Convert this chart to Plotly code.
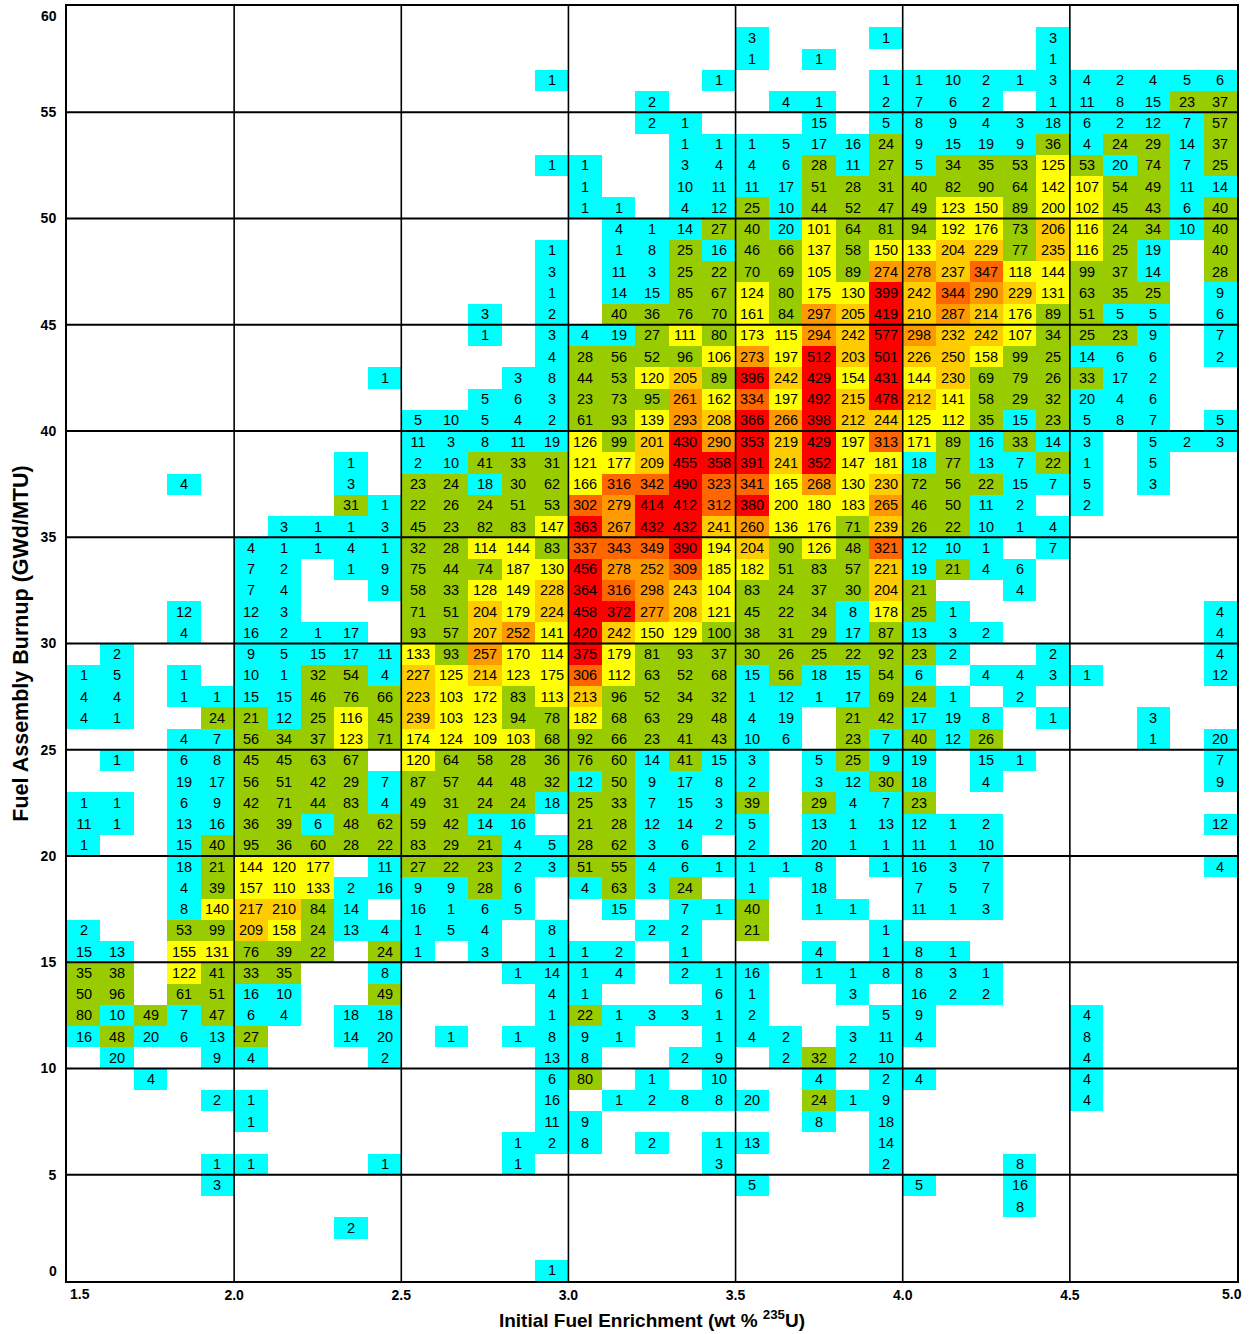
import plotly.graph_objects as go

# Enrichment bins (wt% U-235), 0.1 wide, lower edges 1.5 .. 4.9
enrichment_lower = [round(1.5 + 0.1 * j, 1) for j in range(35)]
# Burnup bins (GWd/MTU), 1 wide, listed top (59-60) to bottom (0-1)
burnup_lower = [59 - k for k in range(60)]

# Assembly counts per cell, rows from burnup 59-60 down to 0-1; "." = no assemblies
# columns: 1.5-1.6, 1.6-1.7, ..., 4.9-5.0
counts_rows = [
    ". . . . . . . . . . . .   . . . . . . . . . . . .   . . . . . . . . . . .",
    ". . . . . . . . . . . .   . . . . . . . . 3 . . .   1 . . . . 3 . . . . .",
    ". . . . . . . . . . . .   . . . . . . . . 1 . 1 .   . . . . . 1 . . . . .",
    ". . . . . . . . . . . .   . . 1 . . . . 1 . . . .   1 1 10 2 1 3 4 2 4 5 6",
    ". . . . . . . . . . . .   . . . . . 2 . . . 4 1 .   2 7 6 2 . 1 11 8 15 23 37",
    ". . . . . . . . . . . .   . . . . . 2 1 . . . 15 .   5 8 9 4 3 18 6 2 12 7 57",
    ". . . . . . . . . . . .   . . . . . . 1 1 1 5 17 16   24 9 15 19 9 36 4 24 29 14 37",
    ". . . . . . . . . . . .   . . 1 1 . . 3 4 4 6 28 11   27 5 34 35 53 125 53 20 74 7 25",
    ". . . . . . . . . . . .   . . . 1 . . 10 11 11 17 51 28   31 40 82 90 64 142 107 54 49 11 14",
    ". . . . . . . . . . . .   . . . 1 1 . 4 12 25 10 44 52   47 49 123 150 89 200 102 45 43 6 40",
    ". . . . . . . . . . . .   . . . . 4 1 14 27 40 20 101 64   81 94 192 176 73 206 116 24 34 10 40",
    ". . . . . . . . . . . .   . . 1 . 1 8 25 16 46 66 137 58   150 133 204 229 77 235 116 25 19 . 40",
    ". . . . . . . . . . . .   . . 3 . 11 3 25 22 70 69 105 89   274 278 237 347 118 144 99 37 14 . 28",
    ". . . . . . . . . . . .   . . 1 . 14 15 85 67 124 80 175 130   399 242 344 290 229 131 63 35 25 . 9",
    ". . . . . . . . . . . .   3 . 2 . 40 36 76 70 161 84 297 205   419 210 287 214 176 89 51 5 5 . 6",
    ". . . . . . . . . . . .   1 . 3 4 19 27 111 80 173 115 294 242   577 298 232 242 107 34 25 23 9 . 7",
    ". . . . . . . . . . . .   . . 4 28 56 52 96 106 273 197 512 203   501 226 250 158 99 25 14 6 6 . 2",
    ". . . . . . . . . 1 . .   . 3 8 44 53 120 205 89 396 242 429 154   431 144 230 69 79 26 33 17 2 . .",
    ". . . . . . . . . . . .   5 6 3 23 73 95 261 162 334 197 492 215   478 212 141 58 29 32 20 4 6 . .",
    ". . . . . . . . . . 5 10   5 4 2 61 93 139 293 208 366 266 398 212   244 125 112 35 15 23 5 8 7 . 5",
    ". . . . . . . . . . 11 3   8 11 19 126 99 201 430 290 353 219 429 197   313 171 89 16 33 14 3 . 5 2 3",
    ". . . . . . . . 1 . 2 10   41 33 31 121 177 209 455 358 391 241 352 147   181 18 77 13 7 22 1 . 5 . .",
    ". . . 4 . . . . 3 . 23 24   18 30 62 166 316 342 490 323 341 165 268 130   230 72 56 22 15 7 5 . 3 . .",
    ". . . . . . . . 31 1 22 26   24 51 53 302 279 414 412 312 380 200 180 183   265 46 50 11 2 . 2 . . . .",
    ". . . . . . 3 1 1 3 45 23   82 83 147 363 267 432 432 241 260 136 176 71   239 26 22 10 1 4 . . . . .",
    ". . . . . 4 1 1 4 1 32 28   114 144 83 337 343 349 390 194 204 90 126 48   321 12 10 1 . 7 . . . . .",
    ". . . . . 7 2 . 1 9 75 44   74 187 130 456 278 252 309 185 182 51 83 57   221 19 21 4 6 . . . . . .",
    ". . . . . 7 4 . . 9 58 33   128 149 228 364 316 298 243 104 83 24 37 30   204 21 . . 4 . . . . . .",
    ". . . 12 . 12 3 . . . 71 51   204 179 224 458 372 277 208 121 45 22 34 8   178 25 1 . . . . . . . 4",
    ". . . 4 . 16 2 1 17 . 93 57   207 252 141 420 242 150 129 100 38 31 29 17   87 13 3 2 . . . . . . 4",
    ". 2 . . . 9 5 15 17 11 133 93   257 170 114 375 179 81 93 37 30 26 25 22   92 23 2 . . 2 . . . . 4",
    "1 5 . 1 . 10 1 32 54 4 227 125   214 123 175 306 112 63 52 68 15 56 18 15   54 6 . 4 4 3 1 . . . 12",
    "4 4 . 1 1 15 15 46 76 66 223 103   172 83 113 213 96 52 34 32 1 12 1 17   69 24 1 . 2 . . . . . .",
    "4 1 . . 24 21 12 25 116 45 239 103   123 94 78 182 68 63 29 48 4 19 . 21   42 17 19 8 . 1 . . 3 . .",
    ". . . 4 7 56 34 37 123 71 174 124   109 103 68 92 66 23 41 43 10 6 . 23   7 40 12 26 . . . . 1 . 20",
    ". 1 . 6 8 45 45 63 67 . 120 64   58 28 36 76 60 14 41 15 3 . 5 25   9 19 . 15 1 . . . . . 7",
    ". . . 19 17 56 51 42 29 7 87 57   44 48 32 12 50 9 17 8 2 . 3 12   30 18 . 4 . . . . . . 9",
    "1 1 . 6 9 42 71 44 83 4 49 31   24 24 18 25 33 7 15 3 39 . 29 4   7 23 . . . . . . . . .",
    "11 1 . 13 16 36 39 6 48 62 59 42   14 16 . 21 28 12 14 2 5 . 13 1   13 12 1 2 . . . . . . 12",
    "1 . . 15 40 95 36 60 28 22 83 29   21 4 5 28 62 3 6 . 2 . 20 1   1 11 1 10 . . . . . . .",
    ". . . 18 21 144 120 177 . 11 27 22   23 2 3 51 55 4 6 1 1 1 8 .   1 16 3 7 . . . . . . 4",
    ". . . 4 39 157 110 133 2 16 9 9   28 6 . 4 63 3 24 . 1 . 18 .   . 7 5 7 . . . . . . .",
    ". . . 8 140 217 210 84 14 . 16 1   6 5 . . 15 . 7 1 40 . 1 1   . 11 1 3 . . . . . . .",
    "2 . . 53 99 209 158 24 13 4 1 5   4 . 8 . . 2 2 . 21 . . .   1 . . . . . . . . . .",
    "15 13 . 155 131 76 39 22 . 24 1 .   3 . 1 1 2 . 1 . . . 4 .   1 8 1 . . . . . . . .",
    "35 38 . 122 41 33 35 . . 8 . .   . 1 14 1 4 . 2 1 16 . 1 1   8 8 3 1 . . . . . . .",
    "50 96 . 61 51 16 10 . . 49 . .   . . 4 1 . . . 6 1 . . 3   . 16 2 2 . . . . . . .",
    "80 10 49 7 47 6 4 . 18 18 . .   . . 1 22 1 3 3 1 2 . . .   5 9 . . . . 4 . . . .",
    "16 48 20 6 13 27 . . 14 20 . 1   . 1 8 9 1 . . 1 4 2 . 3   11 4 . . . . 8 . . . .",
    ". 20 . . 9 4 . . . 2 . .   . . 13 8 . . 2 9 . 2 32 2   10 . . . . . 4 . . . .",
    ". . 4 . . . . . . . . .   . . 6 80 . 1 . 10 . . 4 .   2 4 . . . . 4 . . . .",
    ". . . . 2 1 . . . . . .   . . 16 . 1 2 8 8 20 . 24 1   9 . . . . . 4 . . . .",
    ". . . . . 1 . . . . . .   . . 11 9 . . . . . . 8 .   18 . . . . . . . . . .",
    ". . . . . . . . . . . .   . 1 2 8 . 2 . 1 13 . . .   14 . . . . . . . . . .",
    ". . . . 1 1 . . . 1 . .   . 1 . . . . . 3 . . . .   2 . . . 8 . . . . . .",
    ". . . . 3 . . . . . . .   . . . . . . . . 5 . . .   . 5 . . 16 . . . . . .",
    ". . . . . . . . . . . .   . . . . . . . . . . . .   . . . . 8 . . . . . .",
    ". . . . . . . . 2 . . .   . . . . . . . . . . . .   . . . . . . . . . . .",
    ". . . . . . . . . . . .   . . . . . . . . . . . .   . . . . . . . . . . .",
    ". . . . . . . . . . . .   . . 1 . . . . . . . . .   . . . . . . . . . . .",
]

# Colour classes (upper bound of each class, inclusive) and colours
class_upper = [20, 100, 200, 250, 300, 350, 600]
class_colors = ["#00FFFF", "#99CC00", "#FFFF00", "#FFCC00", "#FF9900", "#FF6600", "#FF0000"]

x_ticks = [1.5, 2.0, 2.5, 3.0, 3.5, 4.0, 4.5, 5.0]
y_ticks = [0, 5, 10, 15, 20, 25, 30, 35, 40, 45, 50, 55, 60]

# ---- build grid ----
z, txt = [], []
for row in counts_rows:
    toks = row.split()
    assert len(toks) == 35, (row, len(toks))
    z.append([None if t == "." else int(t) for t in toks])
    txt.append(["" if t == "." else t for t in toks])

x_centers = [e + 0.05 for e in enrichment_lower]
y_centers = [b + 0.5 for b in burnup_lower]

zmax = class_upper[-1]
bounds = [0] + [u + 0.5 for u in class_upper[:-1]] + [zmax]
colorscale = []
for i, c in enumerate(class_colors):
    colorscale.append([bounds[i] / zmax, c])
    colorscale.append([bounds[i + 1] / zmax, c])

FONT = "Liberation Sans, Arial, sans-serif"
TICKFONT = dict(family=FONT, size=14, weight="bold", color="black")

fig = go.Figure(go.Heatmap(
    x=x_centers, y=y_centers, z=z, text=txt,
    texttemplate="%{text}",
    textfont=dict(family=FONT, size=14.5, color="black"),
    colorscale=colorscale, zmin=0, zmax=zmax,
    showscale=False, hoverinfo="skip", xgap=0, ygap=0,
))

shapes = []
for v in x_ticks[1:-1]:
    shapes.append(dict(type="line", xref="x", yref="y", x0=v, x1=v, y0=y_ticks[0], y1=y_ticks[-1],
                       line=dict(color="black", width=1.6), layer="above"))
for h in y_ticks[1:-1]:
    shapes.append(dict(type="line", xref="x", yref="y", x0=x_ticks[0], x1=x_ticks[-1], y0=h, y1=h,
                       line=dict(color="black", width=2), layer="above"))

# end tick labels are drawn nudged inward, as in the original figure
annotations = [
    dict(x=x_ticks[0], y=0, xref="x", yref="paper", text=f"{x_ticks[0]:.1f}", showarrow=False,
         xanchor="center", yanchor="top", xshift=13, yshift=-3, font=TICKFONT),
    dict(x=x_ticks[-1], y=0, xref="x", yref="paper", text=f"{x_ticks[-1]:.1f}", showarrow=False,
         xanchor="center", yanchor="top", xshift=-5, yshift=-3, font=TICKFONT),
    dict(x=0, y=y_ticks[0], xref="paper", yref="y", text=str(y_ticks[0]), showarrow=False,
         xanchor="right", yanchor="middle", xshift=-8, yshift=10, font=TICKFONT),
    dict(x=0, y=y_ticks[-1], xref="paper", yref="y", text=str(y_ticks[-1]), showarrow=False,
         xanchor="right", yanchor="middle", xshift=-8, yshift=-10, font=TICKFONT),
]

fig.update_layout(
    width=1255, height=1334,
    margin=dict(l=67, r=18, t=6, b=53),
    paper_bgcolor="white", plot_bgcolor="white",
    font=dict(family=FONT, color="black"),
    shapes=shapes, annotations=annotations,
    xaxis=dict(
        range=[x_ticks[0], x_ticks[-1]], tickvals=x_ticks[1:-1],
        ticktext=[f"{v:.1f}" for v in x_ticks[1:-1]],
        showgrid=False, zeroline=False, showline=True, mirror=True,
        linecolor="black", linewidth=2, ticks="", ticklabelstandoff=0,
        tickfont=TICKFONT,
        title=dict(text="Initial Fuel Enrichment (wt % <sup>235</sup>U)",
                   font=dict(family=FONT, size=19, weight="bold"), standoff=12),
        automargin=False,
    ),
    yaxis=dict(
        range=[y_ticks[0], y_ticks[-1]], tickvals=y_ticks[1:-1],
        showgrid=False, zeroline=False, showline=True, mirror=True,
        linecolor="black", linewidth=2, ticks="", ticklabelstandoff=6,
        tickfont=TICKFONT,
        title=dict(text="Fuel Assembly Burnup (GWd/MTU)",
                   font=dict(family=FONT, size=21.5, weight="bold"), standoff=6),
        automargin=False,
    ),
)

fig.write_html("out.html", config={"displayModeBar": False},
               post_script="document.body.style.margin='0px';")
